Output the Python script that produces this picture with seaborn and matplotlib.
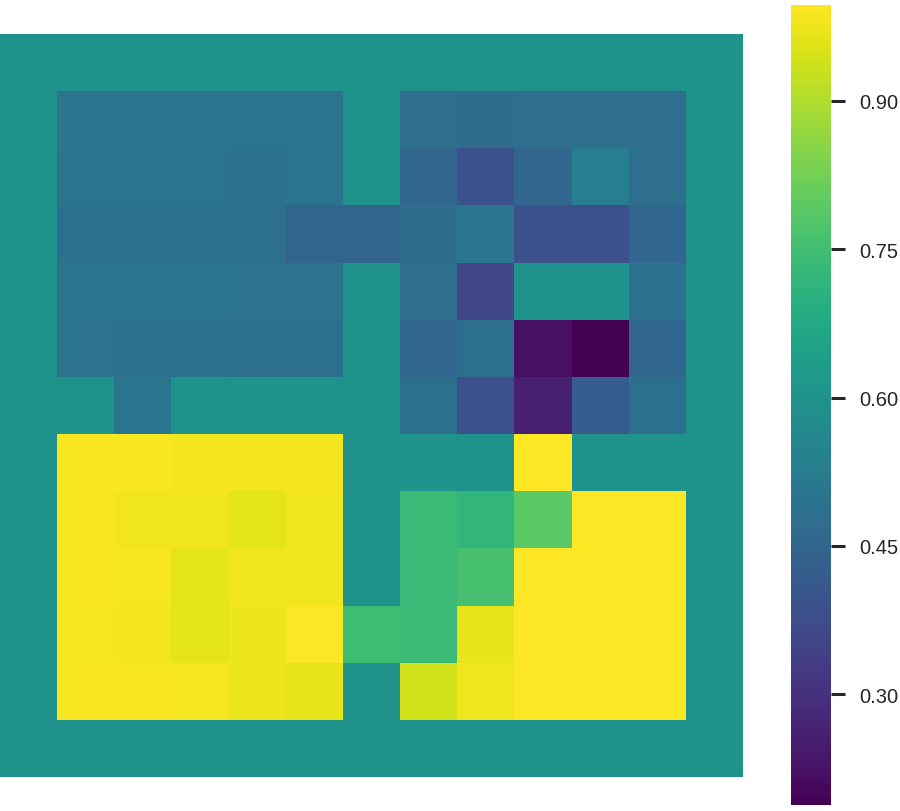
import numpy as np
import pandas as pd
import seaborn as sns
import matplotlib.pyplot as plt

sns.set_theme(style="white")
plt.rcParams['font.family'] = ['Liberation Sans', 'DejaVu Sans']

# background / padding value
bg = 0.6

# upper-left block, rows 1-5, cols 1-5
ul_rows = [
    [0.505, 0.50, 0.50, 0.50, 0.50],
    [0.50, 0.50, 0.50, 0.49, 0.50],
    [0.485, 0.485, 0.49, 0.485, 0.45],
    [0.50, 0.50, 0.50, 0.495, 0.495],
    [0.495, 0.49, 0.49, 0.485, 0.485],
]
# upper-right block, rows 1-6, cols 7-11
ur_rows = [
    [0.48, 0.47, 0.48, 0.48, 0.48],
    [0.455, 0.39, 0.455, 0.53, 0.48],
    [0.475, 0.505, 0.385, 0.385, 0.455],
    [0.48, 0.36, 0.6, 0.6, 0.49],
    [0.455, 0.485, 0.22, 0.188, 0.455],
    [0.485, 0.385, 0.26, 0.42, 0.485],
]
# lower-left block, rows 7-11, cols 1-5
ll_rows = [
    [0.988, 0.988, 0.983, 0.983, 0.983],
    [0.988, 0.98, 0.98, 0.965, 0.98],
    [0.988, 0.985, 0.965, 0.98, 0.98],
    [0.985, 0.983, 0.965, 0.975, 0.997],
    [0.988, 0.988, 0.985, 0.975, 0.968],
]
# lower-right block, rows 7-11, cols 7-11
lr_rows = [
    [0.6, 0.6, 0.997, 0.6, 0.6],
    [0.735, 0.716, 0.79, 0.997, 0.997],
    [0.735, 0.757, 0.997, 0.997, 0.997],
    [0.735, 0.968, 0.997, 0.997, 0.997],
    [0.943, 0.98, 0.997, 0.997, 0.997],
]
# odd cells outside the four blocks (row, col, value)
extra_cells = [(3, 6, 0.445), (6, 2, 0.50), (10, 6, 0.745)]

grid = np.full((13, 13), bg)
grid[1:6, 1:6] = ul_rows
grid[1:7, 7:12] = ur_rows
grid[7:12, 1:6] = ll_rows
grid[7:12, 7:12] = lr_rows
for r, c, v in extra_cells:
    grid[r, c] = v
df = pd.DataFrame(grid)

fig = plt.figure(figsize=(9, 8.12), dpi=100)
ax = fig.add_axes([0, 34 / 812, 743 / 900, 743 / 812])
cax = fig.add_axes([791 / 900, 6 / 812, 40 / 900, 800 / 812])

sns.heatmap(df, ax=ax, cbar_ax=cax, cmap="viridis",
            vmin=grid.min(), vmax=grid.max(),
            xticklabels=False, yticklabels=False)
cax.set_yticks([0.30, 0.45, 0.60, 0.75, 0.90])
cax.set_yticklabels(["0.30", "0.45", "0.60", "0.75", "0.90"])
cax.tick_params(axis='y', right=True, length=10, width=2.2, pad=10,
                labelsize=14.5, color="#262626", labelcolor="#262626")

fig.savefig("out.png", dpi=100)
